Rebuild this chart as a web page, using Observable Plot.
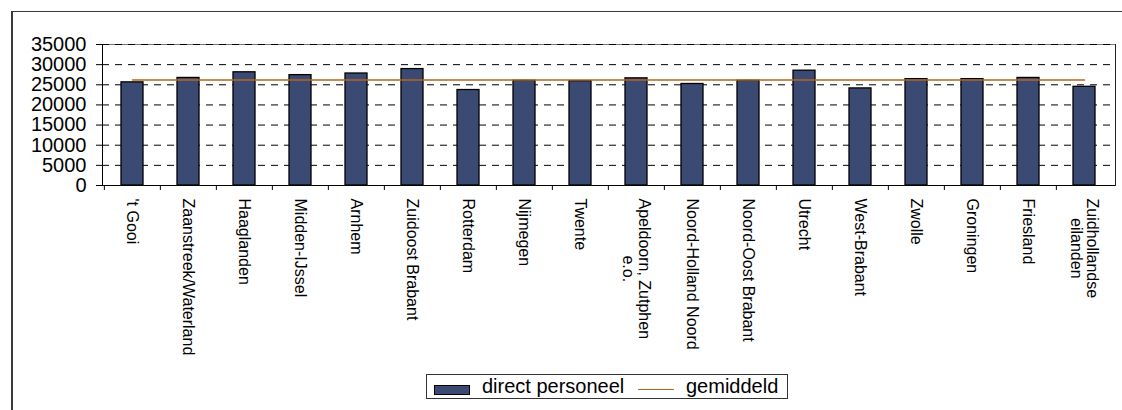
<!DOCTYPE html>
<html><head><meta charset="utf-8">
<script src="https://cdn.jsdelivr.net/npm/d3@7"></script>
<script src="https://cdn.jsdelivr.net/npm/@observablehq/plot@0.6"></script>
<style>
body{margin:0;background:#fff;font-family:"Liberation Sans",Arial,sans-serif;}
#wrap{position:relative;width:1122px;height:410px;overflow:hidden;background:#fff;}
#frame{position:absolute;left:11px;top:11px;width:1200px;height:500px;border-left:2px solid #3a3a3a;border-top:1.5px solid #3a3a3a;}
#chart{position:absolute;left:0;top:0;}
#legend{position:absolute;left:426px;top:374px;width:360px;height:23px;border:1px solid #333;background:#fff;
  font-size:20px;color:#000;white-space:nowrap;}
#legend .sw{position:absolute;left:7px;top:10px;width:34px;height:8px;border:1px solid #000;}
#legend .t1{position:absolute;left:55px;top:0px;line-height:23px;}
#legend .ln{position:absolute;left:211px;top:14px;width:36px;height:0;border-top:1.5px solid #B5651D;}
#legend .t2{position:absolute;left:259px;top:0px;line-height:23px;}
</style></head>
<body>
<div id="wrap">
  <div id="frame"></div>
  <div id="chart"></div>
  <div id="legend"><div class="sw"></div><span class="t1"></span><div class="ln"></div><span class="t2"></span></div>
</div>
<script>
const regions = ["'t Gooi","Zaanstreek/Waterland","Haaglanden","Midden-IJssel","Arnhem","Zuidoost Brabant","Rotterdam","Nijmegen","Twente","Apeldoorn, Zutphen\ne.o.","Noord-Holland Noord","Noord-Oost Brabant","Utrecht","West-Brabant","Zwolle","Groningen","Friesland","Zuidhollandse\neilanden"];
const directPersoneel = [25600,26700,28100,27400,27800,28900,23700,26000,25900,26600,25200,26000,28500,24100,26400,26400,26700,24500];
const gemiddeld = 26200;
const yTicks = [0,5000,10000,15000,20000,25000,30000,35000];
const seriesNames = ["direct personeel","gemiddeld"];
const barColor = "#3B4A72";
const lineColor = "#B5651D";

const bars = regions.map((r,i)=>({region:r, value:directPersoneel[i]}));
const avg = regions.map(r=>({region:r, value:gemiddeld}));

const W = 1122, mL = 102, mR = 7;
const step = (W - mL - mR) / regions.length;

const chart = Plot.plot({
  width: W, height: 372,
  marginTop: 44, marginLeft: mL, marginRight: mR, marginBottom: 187,
  style: {fontFamily: "'Liberation Sans', Arial, sans-serif", fontSize: "16px", color: "#000", background: "transparent"},
  x: {domain: regions, paddingInner: 0.6, paddingOuter: 0.3},
  y: {domain: [0, 35000]},
  marks: [
    Plot.frame({stroke: "#777"}),
    Plot.ruleY(yTicks.slice(1), {stroke: "#000", strokeDasharray: "7,6"}),
    Plot.barY(bars, {x: "region", y: "value", fill: barColor, stroke: "#000", strokeWidth: 1.3}),
    Plot.lineY(avg, {x: "region", y: "value", stroke: lineColor, strokeWidth: 1.5}),
    Plot.frame({anchor: "right", stroke: "#222"}),
    Plot.frame({anchor: "left", stroke: "#000"}),
    Plot.ruleY([0], {stroke: "#000"}),
    Plot.axisY({ticks: yTicks, tickSize: 6, tickPadding: 10, fontSize: 20, tickFormat: d => String(d), label: null}),
    Plot.axisX({tickSize: 5, text: null, dx: -step/2, label: null}),
    Plot.axisX({tickSize: 0, tickPadding: 13, tickRotate: 90, fontSize: 16, label: null})
  ]
});
document.getElementById("chart").appendChild(chart);
document.querySelector("#legend .t1").textContent = seriesNames[0];
document.querySelector("#legend .t2").textContent = seriesNames[1];
document.querySelector("#legend .sw").style.background = barColor;

// center lines of multi-line category labels relative to each other
chart.querySelectorAll("text").forEach(t => {
  const spans = t.querySelectorAll("tspan");
  if (spans.length > 1) {
    const lens = Array.from(spans, s => s.getComputedTextLength());
    const mx = Math.max(...lens);
    spans.forEach((s, i) => s.setAttribute("x", (mx - lens[i]) / 2));
  }
});
</script>
</body></html>
